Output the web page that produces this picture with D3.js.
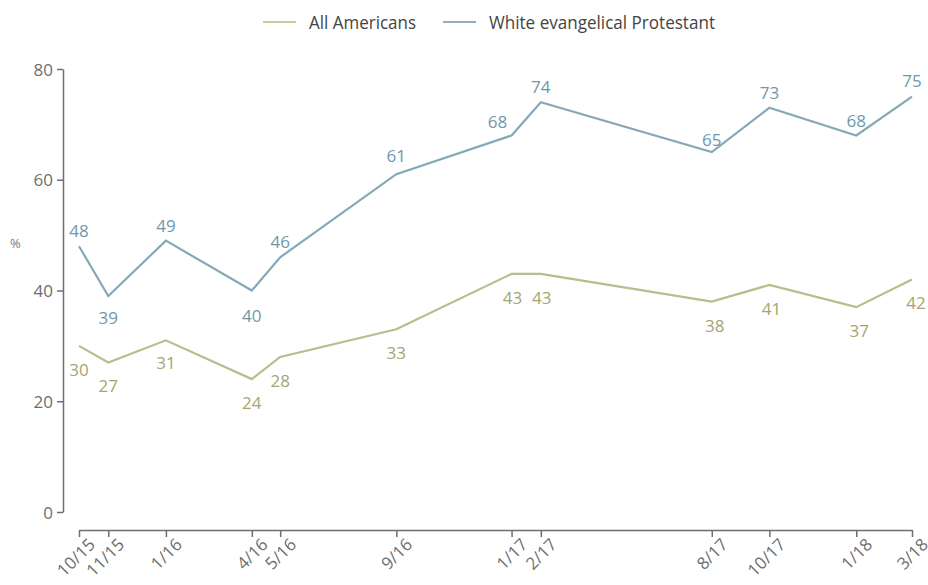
<!DOCTYPE html>
<html>
<head>
<meta charset="utf-8">
<script src="https://cdn.jsdelivr.net/npm/d3@7"></script>
<style>
	body { margin: 0; background: #fff; }
	svg { display: block; font-family: "Open Sans", sans-serif; }
	.axis path, .axis line { stroke: #6e6e6e; stroke-width: 1.5; }
	.axis text { fill: #6e6e6e; font-size: 17px; font-family: "Open Sans", sans-serif; }
</style>
</head>
<body>
<svg id="chart" width="928" height="585"></svg>
<script>
const WIDTH = 928,
	  HEIGHT = 585;

// survey dates and tick labels
const dates = ["2015-10", "2015-11", "2016-01", "2016-04", "2016-05", "2016-09",
			   "2017-01", "2017-02", "2017-08", "2017-10", "2018-01", "2018-03"];
const tickLabels = ["10/15", "11/15", "1/16", "4/16", "5/16", "9/16",
					"1/17", "2/17", "8/17", "10/17", "1/18", "3/18"];

// series values (%)
const allAmericans = [30, 27, 31, 24, 28, 33, 43, 43, 38, 41, 37, 42];
const whiteEvangelical = [48, 39, 49, 40, 46, 61, 68, 74, 65, 73, 68, 75];

const yTicks = [0, 20, 40, 60, 80];

// label placement (layout only): [dx, dy] per point
const allLabelPos = [[0, 30], [0, 30], [0, 29], [0, 30], [0, 30], [0, 30],
					 [1, 30], [1, 30], [3, 30], [2, 30], [3, 30], [4, 30]];
const evLabelPos = [[0, -9], [0, 28], [0, -9], [0, 31], [0, -9], [0, -12],
					[-14, -7], [0, -9], [0, -6], [0, -9], [0, -8], [0, -10]];

const parseDate = d3.timeParse("%Y-%m");
let dateVals = dates.map(parseDate);

let svg = d3.select("#chart");

let x = d3.scaleTime()
		.domain([dateVals[0], dateVals[dateVals.length - 1]])
		.range([79, 912]);

let y = d3.scaleLinear()
		.domain([0, 80])
		.range([512, 69]);

// y axis
svg.append("g")
	.attr("class", "axis")
	.attr("transform", "translate(63,0)")
	.call(d3.axisLeft(y).tickValues(yTicks).tickSize(6).tickPadding(4).tickSizeOuter(0))
	.call(g => g.selectAll("text").attr("dy", "0.36em"));

// x axis
svg.append("g")
	.attr("class", "axis")
	.attr("transform", "translate(0,530)")
	.call(d3.axisBottom(x).tickValues(dateVals).tickFormat((d, i) => tickLabels[i]).tickSize(7).tickSizeOuter(0))
	.call(g => g.selectAll("text")
		.attr("text-anchor", "end")
		.attr("transform", "translate(4,3) rotate(-45)")
		.attr("dy", "0.7em")
		.attr("y", 6));

// % label
svg.append("text")
	.attr("x", 10)
	.attr("y", 248)
	.attr("fill", "#777")
	.style("font-size", "13px")
	.text("%");

let series = [
	{name: "All Americans", values: allAmericans, line: "#b9bc8c", text: "#a3a672", pos: allLabelPos},
	{name: "White evangelical Protestant", values: whiteEvangelical, line: "#86a8b8", text: "#6f97ab", pos: evLabelPos}
];

let line = d3.line()
		.x((d, i) => x(dateVals[i]))
		.y(d => y(d));

series.forEach(s => {
	svg.append("path")
		.datum(s.values)
		.attr("fill", "none")
		.attr("stroke", s.line)
		.attr("stroke-width", 2.2)
		.attr("stroke-linejoin", "miter")
		.attr("d", line);

	svg.append("g")
		.selectAll("text")
		.data(s.values)
		.join("text")
			.attr("x", (d, i) => x(dateVals[i]) + s.pos[i][0])
			.attr("y", (d, i) => y(d) + s.pos[i][1])
			.attr("text-anchor", "middle")
			.attr("fill", s.text)
			.style("font-size", "17px")
			.text(d => d);
});

// legend
let legend = [
	{name: "All Americans", color: "#c9cc9f", x: 263, width: 107},
	{name: "White evangelical Protestant", color: "#8fb0bf", x: 443, width: 226}
];

legend.forEach(l => {
	svg.append("line")
		.attr("x1", l.x)
		.attr("x2", l.x + 33)
		.attr("y1", 22)
		.attr("y2", 22)
		.attr("stroke", l.color)
		.attr("stroke-width", 2);

	svg.append("text")
		.attr("x", l.x + 46)
		.attr("y", 29)
		.attr("fill", "#444")
		.style("font-size", "19px")
		.attr("textLength", l.width)
		.attr("lengthAdjust", "spacingAndGlyphs")
		.text(l.name);
});
</script>
</body>
</html>
